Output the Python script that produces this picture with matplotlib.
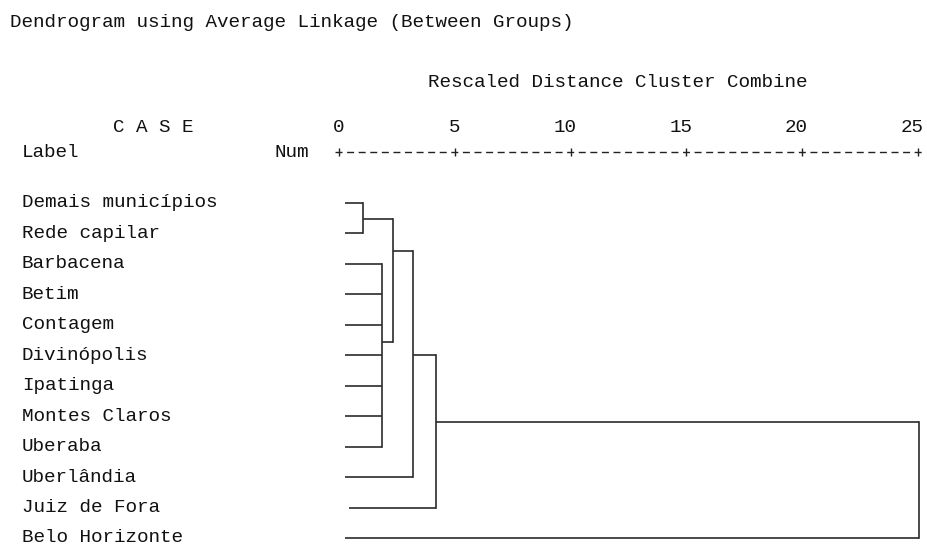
import matplotlib
matplotlib.use("Agg")
import matplotlib.pyplot as plt
from matplotlib import transforms

# ---------------- data ----------------
labels = ["Demais municípios", "Rede capilar", "Barbacena", "Betim", "Contagem",
          "Divinópolis", "Ipatinga", "Montes Claros", "Uberaba", "Uberlândia",
          "Juiz de Fora", "Belo Horizonte"]
leaf_start = [0.26, 0.26, 0.26, 0.26, 0.26, 0.26, 0.26, 0.26, 0.26, 0.26, 0.43, 0.26]

merge_names = ["A", "B", "C", "D", "E", "F"]
merge_members = [[0, 1], [2, 3, 4, 5, 6, 7, 8], ["A", "B"], ["C", 9], ["D", 10], ["E", 11]]
merge_height = [1.05, 1.84, 2.35, 3.21, 4.17, 25.05]
merge_row = [0.54, 4.57, 1.60, 4.99, 7.20, 9.00]

ticks = [0, 5, 10, 15, 20, 25]

title = "Dendrogram using Average Linkage (Between Groups)"
subtitle = "Rescaled Distance Cluster Combine"

# ---------------- layout ----------------
plt.rcParams["font.family"] = ["Liberation Mono", "DejaVu Sans Mono"]
plt.rcParams["lines.scale_dashes"] = False
FS = 13.9
W, H = 928, 545
DPI = 100
fig = plt.figure(figsize=(W / DPI, H / DPI), dpi=DPI)
fig.patch.set_facecolor("white")

def fx(px):
    return px / W

def fy(py):
    return 1 - py / H

axis_top_px = 151.7
x0_px, x25_px = 339.0, 918.0
row0_px, row_px = 202.7, 30.48
unit_px = (x25_px - x0_px) / 25.0

ax = fig.add_axes([fx(x0_px), 0, (x25_px - x0_px) / W, (H - axis_top_px) / H])
ax.set_xlim(0, 25)
ytop = (axis_top_px - row0_px) / row_px
ax.set_ylim((H - row0_px) / row_px, ytop)
ax.set_facecolor("none")
for s in ["left", "right", "bottom", "top"]:
    ax.spines[s].set_visible(False)
ax.set_yticks([])
ax.xaxis.tick_top()
ax.set_xticks(ticks)
ax.set_xticklabels([str(t) for t in ticks], ha="right")
ax.tick_params(axis="x", direction="inout", length=5.8, width=1.0, color="#222222",
               pad=8.6, labelsize=FS, labelcolor="#111111")
off = transforms.ScaledTranslation(5.8 / DPI, 0, fig.dpi_scale_trans)
for lab in ax.get_xticklabels():
    lab.set_transform(lab.get_transform() + off)

# dashed axis rule  "+---------+---------+ ..."
half = 3.6 / unit_px
ax.plot([ticks[0] - half, ticks[-1] + half], [ytop, ytop], color="#222222", lw=1.0,
        linestyle=(0, (5.04, 3.3)), clip_on=False, solid_capstyle="butt",
        dash_capstyle="butt")

# ---------------- dendrogram ----------------
LC = "#2b2b2b"
LW = 1.2
pos = {i: (leaf_start[i], i) for i in range(len(labels))}
for name, members, h, r in zip(merge_names, merge_members, merge_height, merge_row):
    rows = [pos[m][1] for m in members]
    for m in members:
        xs, ys = pos[m]
        ax.plot([xs, h], [ys, ys], color=LC, lw=LW, clip_on=False, solid_capstyle="butt")
    ax.plot([h, h], [min(rows), max(rows)], color=LC, lw=LW, clip_on=False,
            solid_capstyle="projecting")
    pos[name] = (h, r)

# ---------------- text ----------------
TC = "#111111"
lab_trans = transforms.blended_transform_factory(fig.transFigure, ax.transData) + \
    transforms.ScaledTranslation(0, -4.5 / DPI, fig.dpi_scale_trans)
for i, lab in enumerate(labels):
    ax.text(fx(22), i, lab, transform=lab_trans, fontsize=FS, color=TC, va="baseline")

fig.text(fx(10), fy(27), title, fontsize=FS, color=TC, va="baseline")
fig.text(fx(428), fy(87), subtitle, fontsize=FS, color=TC, va="baseline")
fig.text(fx(113), fy(131.7), "C A S E", fontsize=FS, color=TC, va="baseline")
fig.text(fx(22), fy(157), "Label", fontsize=FS, color=TC, va="baseline")
fig.text(fx(275), fy(157), "Num", fontsize=FS, color=TC, va="baseline")

fig.savefig("out.png", dpi=DPI, facecolor="white")
